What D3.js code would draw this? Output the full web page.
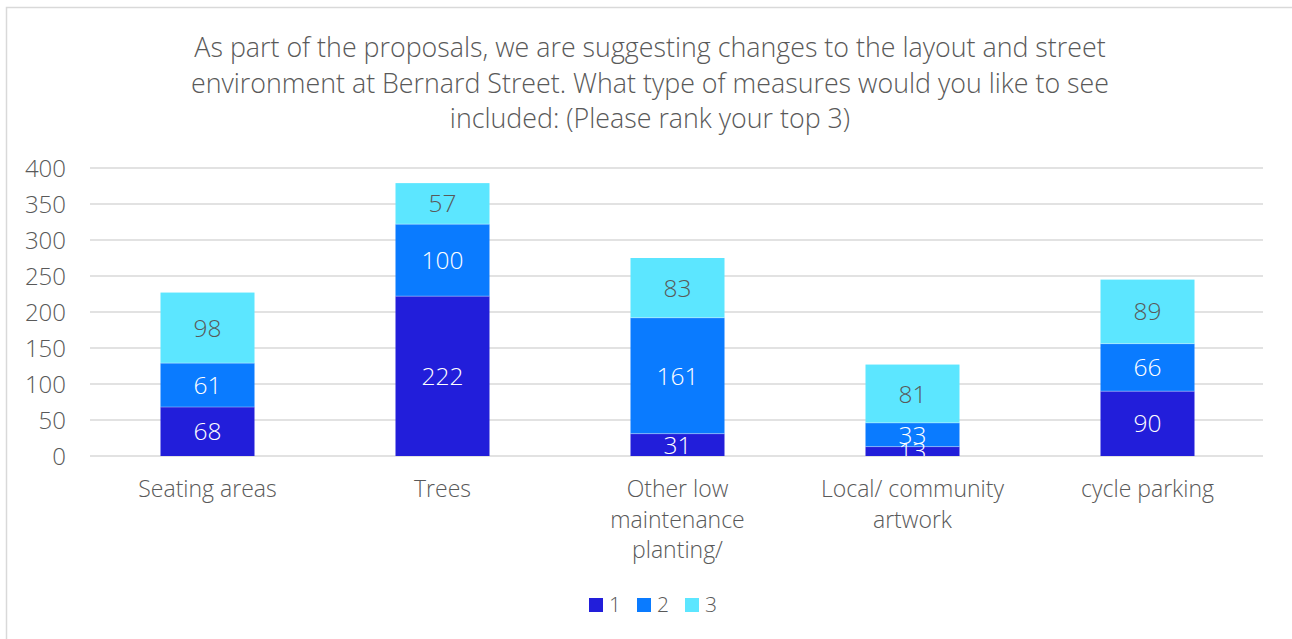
<!DOCTYPE html>
<html><head><meta charset="utf-8">
<script src="https://cdn.jsdelivr.net/npm/d3@7"></script>
<style>
html,body{margin:0;padding:0;background:#fff;}
svg{display:block;font-family:"Open Sans","Noto Sans",sans-serif;}
</style></head>
<body><svg id="c" width="1292" height="639"></svg>
<script>
const categories = [["Seating areas"],["Trees"],["Other low","maintenance","planting/"],["Local/ community","artwork"],["cycle parking"]];
const seriesNames = ["1","2","3"];
const rank1 = [68,222,31,13,90];
const rank2 = [61,100,161,33,66];
const rank3 = [98,57,83,81,89];
const yTicks = [0,50,100,150,200,250,300,350,400];
const colors = ["#221EDA","#0A7BFF","#5CE6FF"];
const labelColors = ["#ffffff","#ffffff","#595959"];
const titleLines = ["As part of the proposals, we are suggesting changes to the layout and street","environment at Bernard Street. What type of measures would you like to see","included: (Please rank your top 3)"];

const svg = d3.select("#c");
// outer border
svg.append("rect").attr("x",6.5).attr("y",7.5).attr("width",1300).attr("height",700)
  .attr("fill","#fff").attr("stroke","#d9d9d9").attr("stroke-width",1.5);

const t = svg.append("text").attr("text-anchor","middle").attr("fill","#595959")
  .attr("font-size",26.8).attr("font-weight",300);
titleLines.forEach((l,i)=>t.append("tspan").attr("x",650).attr("y",57+i*35.5).text(l));

const x = d3.scaleBand().domain(d3.range(categories.length)).range([90,1265]).paddingInner(0.6).paddingOuter(0.3);
const y = d3.scaleLinear().domain([0,400]).range([456,168]);

const grid = svg.append("g");
yTicks.forEach(v=>{
  grid.append("line").attr("x1",90).attr("x2",1263).attr("y1",y(v)).attr("y2",y(v))
    .attr("stroke","#d9d9d9").attr("stroke-width",1.5);
  grid.append("text").attr("x",66).attr("y",y(v)).attr("dy","0.36em").attr("text-anchor","end")
    .attr("fill","#595959").attr("font-size",24).attr("font-weight",300).text(v);
});

const data = categories.map((c,i)=>({i, r1:rank1[i], r2:rank2[i], r3:rank3[i]}));
const stack = d3.stack().keys(["r1","r2","r3"])(data);

svg.append("clipPath").attr("id","plotclip").append("rect").attr("x",80).attr("y",100).attr("width",1200).attr("height",356);

stack.forEach((s,k)=>{
  const g = svg.append("g");
  g.selectAll("rect").data(s).join("rect")
    .attr("x",d=>x(d.data.i)).attr("width",x.bandwidth())
    .attr("y",d=>y(d[1])).attr("height",d=>y(d[0])-y(d[1]))
    .attr("fill",colors[k]);
});
// segment separators
stack.forEach((s,k)=>{
  if(k===0) return;
  svg.append("g").selectAll("line").data(s).join("line")
    .attr("x1",d=>x(d.data.i)).attr("x2",d=>x(d.data.i)+x.bandwidth())
    .attr("y1",d=>y(d[0])).attr("y2",d=>y(d[0]))
    .attr("stroke","#ffffff").attr("stroke-opacity",0.35).attr("stroke-width",1);
});
const lg = svg.append("g").attr("clip-path","url(#plotclip)");
stack.forEach((s,k)=>{
  lg.selectAll("text.l"+k).data(s).join("text")
    .attr("x",d=>x(d.data.i)+x.bandwidth()/2)
    .attr("y",d=>(y(d[0])+y(d[1]))/2).attr("dy","0.36em")
    .attr("text-anchor","middle").attr("font-size",24.5).attr("font-weight",300)
    .attr("fill",labelColors[k]).text(d=>d[1]-d[0]);
});

categories.forEach((lines,i)=>{
  const tx = svg.append("text").attr("text-anchor","middle").attr("fill","#595959")
    .attr("font-size",23).attr("font-weight",300);
  lines.forEach((l,j)=>tx.append("tspan").attr("x",x(i)+x.bandwidth()/2).attr("y",497+j*30.5).text(l));
});

// legend
const legX = [589,637,685];
seriesNames.forEach((n,k)=>{
  svg.append("rect").attr("x",legX[k]).attr("y",598).attr("width",14).attr("height",14).attr("fill",colors[k]);
  svg.append("text").attr("x",legX[k]+20).attr("y",612).attr("fill","#595959")
    .attr("font-size",21).attr("font-weight",300).text(n);
});
</script></body></html>
